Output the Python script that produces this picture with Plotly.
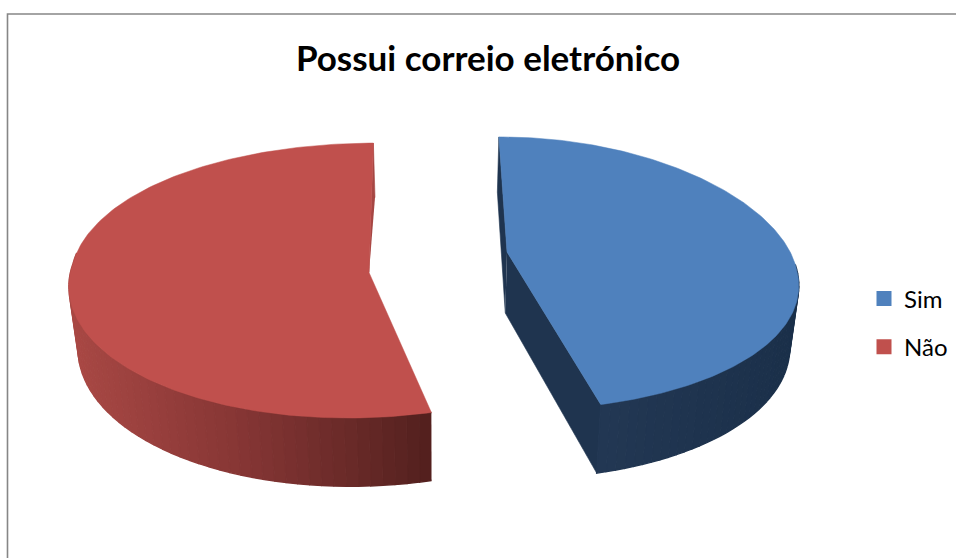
import numpy as np
import plotly.graph_objects as go

title_text = "Possui correio eletrónico"
categories = ["Sim", "Não"]
values = [46, 54]
top_colors = ["#4F81BD", "#C0504D"]

# wall shade ramps: (screen x, rgb)
wall_ramps = [
    [(500, (31, 52, 79)), (600, (35, 56, 84)), (800, (27, 48, 74))],
    [(68, (170, 73, 69)), (240, (134, 54, 53)), (370, (100, 40, 38)), (433, (82, 32, 30))],
]
cut_colors = ["#1F344F", "#A64643"]

# projection of each exploded slice
CX = 438
KX = 0.10
DEPTH = 61
geom = [
    dict(ax=507, ay=252, S=289, C=133, ky=0.156, shear=-0.015, bow=15),
    dict(ax=369, ay=272.5, S=296, C=137, ky=0.0585, shear=0.044, bow=-9),
]
START = -0.4


def disk(g, ang):
    X, Y = np.sin(ang), np.cos(ang)
    return X + g["shear"] * min(Y, 0), Y


def top_pt(g, ang):
    X, Y = disk(g, ang)
    return (CX + (g["ax"] - CX + g["S"] * X) / (1 + KX * Y),
            g["ay"] + g["bow"] * X * X - g["C"] * Y / (1 + g["ky"] * Y))


def low_pt(g, ang):
    X, Y = disk(g, ang)
    return (CX + 0.975 * (g["ax"] - CX + g["S"] * X) / (1 + KX * Y),
            g["ay"] + DEPTH + g["bow"] * X * X - 1.05 * g["C"] * Y / (1 + g["ky"] * Y))


def shade(ramp, x):
    xs = [p[0] for p in ramp]
    c = [np.interp(x, xs, [p[1][i] for p in ramp]) for i in range(3)]
    return "rgb(%d,%d,%d)" % tuple(c)


def poly(xs, ys, color, width=0.6):
    return go.Scatter(x=xs, y=ys, mode="lines", fill="toself", fillcolor=color,
                      line=dict(color=color, width=width), hoverinfo="skip",
                      showlegend=False)


fig = go.Figure()
total = sum(values)
a0 = np.radians(START)
for i, v in enumerate(values):
    g = geom[i]
    a1 = a0 + 2 * np.pi * v / total
    low_ax = 0.975 * (g["ax"] - CX) + CX
    # north cut face (both slices show it), other cut face on the blue one only
    north = a0 if i == 0 else a1
    tx, ty = top_pt(g, north)
    lx, ly = low_pt(g, north)
    if i == 0:
        fig.add_trace(poly([g["ax"], tx, lx, low_ax],
                           [g["ay"], ty, ly, g["ay"] + DEPTH], cut_colors[i]))
        tx, ty = top_pt(g, a1)
        lx, ly = low_pt(g, a1)
        fig.add_trace(poly([g["ax"], tx, lx, low_ax],
                           [g["ay"], ty, ly, g["ay"] + DEPTH], cut_colors[i]))
    else:
        fig.add_trace(poly([g["ax"], tx, lx], [g["ay"], ty, ly], cut_colors[i]))
    # outer wall strips, back to front; the far part is hidden by the top face
    angs = np.linspace(a0, a1, 90)
    strips = [s for s in zip(angs[:-1], angs[1:]) if np.cos(s[0]) < 0.05]
    strips.sort(key=lambda p: -np.cos(p[0]))
    for p, q in strips:
        t1, t2 = top_pt(g, p), top_pt(g, q)
        l1, l2 = low_pt(g, p), low_pt(g, q)
        fig.add_trace(poly([t1[0], t2[0], l2[0], l1[0]],
                           [t1[1], t2[1], l2[1], l1[1]],
                           shade(wall_ramps[i], (t1[0] + t2[0]) / 2), width=1.4))
    # top face
    arc = [top_pt(g, a) for a in np.linspace(a0, a1, 200)]
    fig.add_trace(go.Scatter(
        x=[g["ax"]] + [p[0] for p in arc] + [g["ax"]],
        y=[g["ay"]] + [p[1] for p in arc] + [g["ay"]],
        mode="lines", fill="toself", fillcolor=top_colors[i],
        line=dict(color=top_colors[i], width=0.5),
        name=categories[i], hoverinfo="skip", showlegend=False))
    a0 = a1

for name, col in zip(categories, top_colors):
    fig.add_trace(go.Scatter(x=[None], y=[None], mode="markers", name=name,
                             legendgroup=name,
                             marker=dict(symbol="square", size=15, color=col)))

fig.update_layout(
    width=956, height=558, autosize=False,
    margin=dict(l=0, r=0, t=0, b=0),
    paper_bgcolor="white", plot_bgcolor="white",
    xaxis=dict(range=[0, 956], visible=False, fixedrange=True),
    yaxis=dict(range=[558, 0], visible=False, fixedrange=True),
    title=dict(text="<b>%s</b>" % title_text, x=488 / 956, xanchor="center",
               y=1 - 59 / 558, yanchor="middle",
               font=dict(family="Lato", size=35, color="black")),
    legend=dict(x=864 / 956, xanchor="left", y=1 - 323 / 558, yanchor="middle",
                font=dict(family="Lato", size=24, color="black"),
                tracegroupgap=14, itemwidth=30, bgcolor="rgba(0,0,0,0)",
                itemclick=False, itemdoubleclick=False),
    shapes=[dict(type="rect", xref="x", yref="y", x0=7.5, y0=14, x1=990, y1=600,
                 line=dict(color="#868686", width=1.6), layer="below")],
)
fig.write_html("out.html", config=dict(displayModeBar=False),
               post_script="document.body.style.margin='0';document.body.style.overflow='hidden';")
